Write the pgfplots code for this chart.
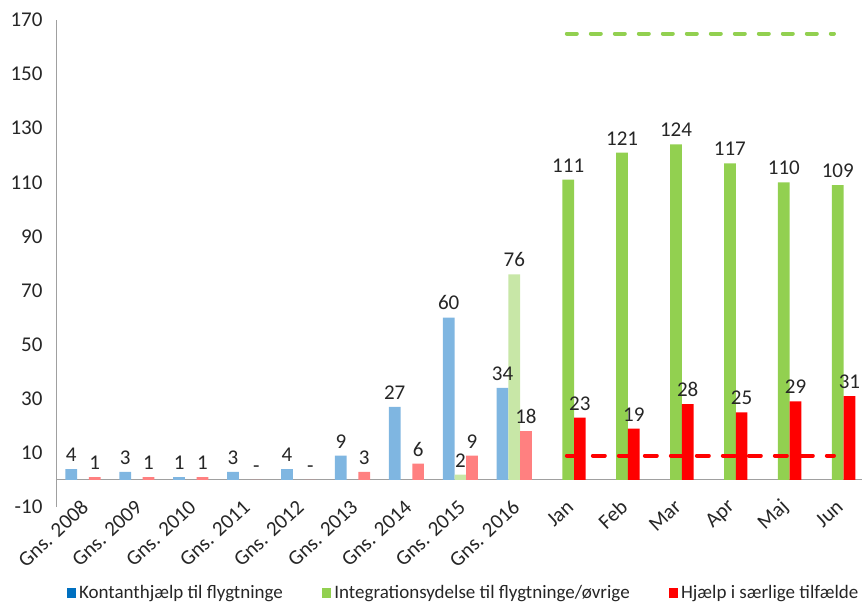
\documentclass[border=0pt]{standalone}
\usepackage{pgfplots}
\pgfplotsset{compat=1.18}
\usepackage{fontspec}
\setmainfont{Carlito}
\usetikzlibrary{calc}

\definecolor{blueL}{HTML}{7FB6E1}
\definecolor{blueD}{HTML}{0070C0}
\definecolor{greenL}{HTML}{C8E7A7}
\definecolor{greenD}{HTML}{92D050}
\definecolor{redL}{HTML}{FF8080}
\definecolor{redD}{HTML}{FF0000}
\definecolor{txt}{HTML}{262626}
\definecolor{axgray}{HTML}{A0A0A0}

\begin{document}
\begin{tikzpicture}
\begin{axis}[
    name=ax,
    scale only axis,
    width=806pt, height=487pt,
    xmin=-0.5, xmax=14.45,
    ymin=-10, ymax=170,
    ytick={-10,10,...,170},
    xtick={0,...,14},
    xticklabels={Gns. 2008,Gns. 2009,Gns. 2010,Gns. 2011,Gns. 2012,Gns. 2013,Gns. 2014,Gns. 2015,Gns. 2016,Jan,Feb,Mar,Apr,Maj,Jun},
    axis lines=left,
    axis line style={-},
    x axis line style={draw=none},
    y axis line style={draw=axgray},
    major tick length=0pt,
    tick label style={font=\fontsize{21}{23}\selectfont, text=txt},
    /pgf/number format/assume math mode=true,
    yticklabel style={xshift=-10pt},
    xticklabel style={rotate=43, anchor=east, xshift=7pt, yshift=1pt},
    ybar, bar width=0.217,
    point meta=explicit symbolic,
    every node near coord/.append style={font=\fontsize{21}{23}\selectfont, text=txt, yshift=4pt},
    legend columns=3,
    legend style={draw=none, at={(0.5056,-0.175)}, anchor=center,
        font=\fontsize{19}{21}\selectfont, text=txt,
        /tikz/every odd column/.append style={column sep=2pt},
        /tikz/every even column/.append style={column sep=37pt}},
    legend image code/.code={\fill[#1] (0pt,-4.5pt) rectangle (8pt,4.5pt);},
    clip=false,
]
\addlegendimage{blueD}
\addlegendentry{Kontanthjælp til flygtninge}
\addlegendimage{greenD}
\addlegendentry{Integrationsydelse til flygtninge/øvrige}
\addlegendimage{redD}
\addlegendentry{Hjælp i særlige tilfælde}

% zero line
\addplot[sharp plot, axgray, line width=1pt, forget plot, point meta=none]
    coordinates {(-0.5,0) (14.45,0)};

% Kontanthjaelp (years)
\addplot[fill=blueL, draw=none, bar shift=-0.217, nodes near coords, forget plot]
    coordinates {(0,4)[4] (1,3)[3] (2,1)[1] (3,3)[3] (4,4)[4] (5,9)[9] (6,27)[27] (7,60)[60] (8,34)[34]};

% Integrationsydelse (years, light)
\addplot[fill=greenL, draw=none, bar shift=0, nodes near coords, forget plot]
    coordinates {(7,2)[2] (8,76)[76]};

% Integrationsydelse (months)
\addplot[fill=greenD, draw=none, bar shift=0, nodes near coords, forget plot]
    coordinates {(9,111)[111] (10,121)[121] (11,124)[124] (12,117)[117] (13,110)[110] (14,109)[109]};

% Hjaelp i saerlige tilfaelde (years, light)
\addplot[fill=redL, draw=none, bar shift=0.217, nodes near coords, forget plot]
    coordinates {(0,1)[1] (1,1)[1] (2,1)[1] (3,0)[-] (4,0)[-] (5,3)[3] (6,6)[6] (7,9)[9] (8,18)[18]};

% Hjaelp i saerlige tilfaelde (months)
\addplot[fill=redD, draw=none, bar shift=0.217, nodes near coords, forget plot]
    coordinates {(9,23)[23] (10,19)[19] (11,28)[28] (12,25)[25] (13,29)[29] (14,31)[31]};

% reference lines
\addplot[sharp plot, greenD, line width=4pt, line cap=round, dash pattern=on 10pt off 14pt, forget plot, point meta=none]
    coordinates {(8.975,165) (13.93,165)};
\addplot[sharp plot, redD, line width=4pt, line cap=round, dash pattern=on 12pt off 14pt, forget plot, point meta=none]
    coordinates {(8.975,9) (13.93,9)};
\end{axis}
\pgfresetboundingbox
\path ($(ax.south west)+(-56pt,-96pt)$) rectangle ($(ax.north east)+(0pt,20pt)$);
\end{tikzpicture}
\end{document}
